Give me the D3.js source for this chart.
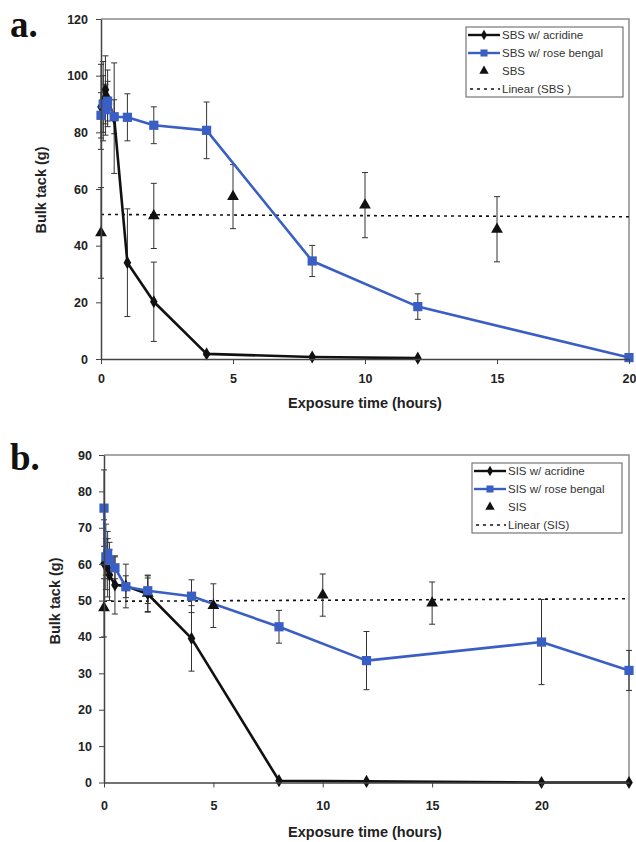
<!DOCTYPE html>
<html><head><meta charset="utf-8">
<script src="https://cdn.jsdelivr.net/npm/d3@7"></script>
<style>body{margin:0;background:#fff} svg{display:block}</style>
</head><body>
<script>
// ---------- Panel a (SBS) ----------
const aAcrT = [0, 0.083, 0.167, 0.25, 0.5, 1, 2, 4, 8, 12];
const aAcrV = [89, 91, 95, 92, 85, 34, 20.2, 1.8, 0.7, 0.3];
const aAcrE = [15, 14, 12, 10, 19.5, 19, 14, 0.5, 0.3, 0.2];
const aRbT = [0, 0.083, 0.167, 0.25, 0.5, 1, 2, 4, 8, 12, 20];
const aRbV = [86, 90, 88, 91, 85.5, 85.3, 82.5, 80.7, 34.6, 18.5, 0.5];
const aRbE = [8, 10, 9, 7, 6, 8.3, 6.5, 10, 5.5, 4.5, 0.3];
const aTriT = [0, 2, 5, 10, 15];
const aTriV = [44.5, 50.5, 57.3, 54.3, 45.8];
const aTriE = [16, 11.5, 11.3, 11.5, 11.5];
const aTrendT = [0, 20];
const aTrendV = [51, 50.2];
const aXTicks = [0, 5, 10, 15, 20];
const aYTicks = [0, 20, 40, 60, 80, 100, 120];
const aLegend = ["SBS w/ acridine", "SBS w/ rose bengal", "SBS", "Linear (SBS )"];

// ---------- Panel b (SIS) ----------
const bAcrT = [0, 0.083, 0.167, 0.25, 0.5, 1, 2, 4, 8, 12, 20, 24];
const bAcrV = [60.2, 62, 59, 57, 54.3, 54, 51.8, 39.6, 0.5, 0.3, 0, 0];
const bAcrE = [12, 9, 8, 7, 8, 6, 5, 9, 0.3, 0.2, 0.1, 0.1];
const bRbT = [0, 0.083, 0.167, 0.25, 0.5, 1, 2, 4, 8, 12, 20, 24];
const bRbV = [75.4, 62, 63, 61, 59, 53.8, 52.7, 51.2, 42.8, 33.5, 38.6, 30.8];
const bRbE = [10.5, 5, 6, 5, 3, 3, 3.5, 4.5, 4.5, 8, 11.7, 5.5];
const bTriT = [0, 2, 5, 10, 15];
const bTriV = [48, 52, 48.6, 51.5, 49.3];
const bTriE = [8, 5, 6, 5.8, 5.8];
const bTrendT = [0, 24];
const bTrendV = [49.8, 50.5];
const bXTicks = [0, 5, 10, 15, 20];
const bYTicks = [0, 10, 20, 30, 40, 50, 60, 70, 80, 90];
const bLegend = ["SIS w/ acridine", "SIS w/ rose bengal", "SIS", "Linear (SIS)"];

const BLUE = "#3a5fc4";
const W = 636, H = 842;
const svg = d3.select("body").append("svg").attr("width", W).attr("height", H);

const zip = (t, v, e) => t.map((x, i) => ({t: x, v: v[i], e: e ? e[i] : 0}));

function panel(o) {
  const g = svg.append("g");
  const x = d3.scaleLinear().domain(o.xDomain).range([o.left, o.right]);
  const y = d3.scaleLinear().domain(o.yDomain).range([o.bottom, o.top]);

  // plot border (top/right)
  g.append("path")
    .attr("d", `M${o.left},${o.top}H${o.right}V${o.bottom}`)
    .attr("fill", "none").attr("stroke", "#8a8a8a").attr("stroke-width", 1.5);

  // trend line
  g.append("path")
    .datum(zip(o.trendT, o.trendV))
    .attr("d", d3.line().x(d => x(d.t)).y(d => y(d.v)))
    .attr("fill", "none").attr("stroke", "#111").attr("stroke-width", 1.6)
    .attr("stroke-dasharray", "3,4");

  // error bars
  const errs = [].concat(zip(o.triT, o.triV, o.triE), zip(o.rbT, o.rbV, o.rbE), zip(o.acrT, o.acrV, o.acrE));
  const eg = g.append("g").attr("stroke", "#333").attr("stroke-width", 1).attr("fill", "none");
  errs.forEach(d => {
    const xx = x(d.t), y1 = y(d.v - d.e), y2 = y(d.v + d.e);
    eg.append("path").attr("d", `M${xx},${y1}V${y2}M${xx - 3},${y1}H${xx + 3}M${xx - 3},${y2}H${xx + 3}`);
  });

  const line = d3.line().x(d => x(d.t)).y(d => y(d.v));
  // acridine line
  g.append("path").datum(zip(o.acrT, o.acrV)).attr("d", line)
    .attr("fill", "none").attr("stroke", "#111").attr("stroke-width", 2.6).attr("stroke-linejoin", "round");
  // rose bengal line
  g.append("path").datum(zip(o.rbT, o.rbV)).attr("d", line)
    .attr("fill", "none").attr("stroke", BLUE).attr("stroke-width", 2.6).attr("stroke-linejoin", "round");

  // markers
  g.selectAll(".tri").data(zip(o.triT, o.triV)).join("path")
    .attr("transform", d => `translate(${x(d.t)},${y(d.v)})`)
    .attr("d", d3.symbol(d3.symbolTriangle, 60)).attr("fill", "#111");
  g.selectAll(".acr").data(zip(o.acrT, o.acrV)).join("path")
    .attr("transform", d => `translate(${x(d.t)},${y(d.v)})`)
    .attr("d", d3.symbol(d3.symbolDiamond, 50)).attr("fill", "#111");
  g.selectAll(".rb").data(zip(o.rbT, o.rbV)).join("path")
    .attr("transform", d => `translate(${x(d.t)},${y(d.v)})`)
    .attr("d", d3.symbol(d3.symbolSquare, 85)).attr("fill", BLUE);

  // axes
  const ya = g.append("g").attr("transform", `translate(${o.left},0)`)
    .call(d3.axisLeft(y).tickValues(o.yTicks).tickSize(5).tickPadding(o.yPad).tickSizeOuter(0));
  const xa = g.append("g").attr("transform", `translate(0,${o.bottom})`)
    .call(d3.axisBottom(x).tickValues(o.xTicks).tickSize(5).tickPadding(o.xPad).tickSizeOuter(0));
  [ya, xa].forEach(a => {
    a.select(".domain").attr("stroke", "#444").attr("stroke-width", 1.5);
    a.selectAll(".tick line").attr("stroke", "#444");
    a.selectAll("text").attr("font-family", "Liberation Sans, Arial, sans-serif")
      .attr("font-weight", "bold").attr("font-size", 12.5).attr("fill", "#222");
  });

  // axis titles
  g.append("text").attr("transform", `translate(${o.yTitleX},${o.yTitleY}) rotate(-90)`)
    .attr("text-anchor", "middle").attr("font-family", "Liberation Sans, Arial, sans-serif")
    .attr("font-weight", "bold").attr("font-size", 14.5).attr("fill", "#222").text("Bulk tack (g)");
  g.append("text").attr("x", o.xTitleX).attr("y", o.xTitleY)
    .attr("text-anchor", "middle").attr("font-family", "Liberation Sans, Arial, sans-serif")
    .attr("font-weight", "bold").attr("font-size", 14.5).attr("fill", "#222").text("Exposure time (hours)");

  // panel letter
  g.append("text").attr("x", 10).attr("y", o.letterY)
    .attr("font-family", "Liberation Serif, Times New Roman, serif").attr("font-weight", "bold")
    .attr("font-size", 37).attr("fill", "#111").text(o.letter);

  // legend
  const L = o.legend;
  const lg = g.append("g");
  lg.append("rect").attr("x", L.x).attr("y", L.y).attr("width", L.w).attr("height", L.h)
    .attr("fill", "#fff").attr("stroke", "#777").attr("stroke-width", 1.2);
  const rows = o.legendLabels;
  rows.forEach((lab, i) => {
    const cy = L.y + 8 + i * L.step;
    const sx0 = L.x + 2, sx1 = L.x + 34, cx = (sx0 + sx1) / 2;
    if (i === 0) {
      lg.append("line").attr("x1", sx0).attr("x2", sx1).attr("y1", cy).attr("y2", cy).attr("stroke", "#111").attr("stroke-width", 2.4);
      lg.append("path").attr("transform", `translate(${cx},${cy})`).attr("d", d3.symbol(d3.symbolDiamond, 32)).attr("fill", "#111");
    } else if (i === 1) {
      lg.append("line").attr("x1", sx0).attr("x2", sx1).attr("y1", cy).attr("y2", cy).attr("stroke", BLUE).attr("stroke-width", 2.4);
      lg.append("path").attr("transform", `translate(${cx},${cy})`).attr("d", d3.symbol(d3.symbolSquare, 50)).attr("fill", BLUE);
    } else if (i === 2) {
      lg.append("path").attr("transform", `translate(${cx},${cy})`).attr("d", d3.symbol(d3.symbolTriangle, 38)).attr("fill", "#111");
    } else {
      lg.append("line").attr("x1", sx0 + 2).attr("x2", sx1).attr("y1", cy).attr("y2", cy).attr("stroke", "#111").attr("stroke-width", 1.5).attr("stroke-dasharray", "3,4");
    }
    lg.append("text").attr("x", L.x + 36).attr("y", cy + 4)
      .attr("font-family", "Liberation Sans, Arial, sans-serif").attr("font-size", 11.5).attr("fill", "#333").text(lab);
  });
}

panel({
  letter: "a.", letterY: 37,
  left: 101, right: 629, top: 19, bottom: 359,
  xDomain: [0, 20], yDomain: [0, 120],
  xTicks: aXTicks, yTicks: aYTicks, xPad: 10, yPad: 8,
  acrT: aAcrT, acrV: aAcrV, acrE: aAcrE,
  rbT: aRbT, rbV: aRbV, rbE: aRbE,
  triT: aTriT, triV: aTriV, triE: aTriE,
  trendT: aTrendT, trendV: aTrendV,
  yTitleX: 46, yTitleY: 190, xTitleX: 365, xTitleY: 408,
  legend: {x: 466, y: 27, w: 157, h: 70, step: 18},
  legendLabels: aLegend
});

panel({
  letter: "b.", letterY: 470,
  left: 104, right: 629, top: 455, bottom: 782.5,
  xDomain: [0, 24], yDomain: [0, 90],
  xTicks: bXTicks, yTicks: bYTicks, xPad: 14, yPad: 7,
  acrT: bAcrT, acrV: bAcrV, acrE: bAcrE,
  rbT: bRbT, rbV: bRbV, rbE: bRbE,
  triT: bTriT, triV: bTriV, triE: bTriE,
  trendT: bTrendT, trendV: bTrendV,
  yTitleX: 60, yTitleY: 601, xTitleX: 365, xTitleY: 837,
  legend: {x: 472, y: 463, w: 150, h: 70, step: 18},
  legendLabels: bLegend
});
</script>
</body></html>
